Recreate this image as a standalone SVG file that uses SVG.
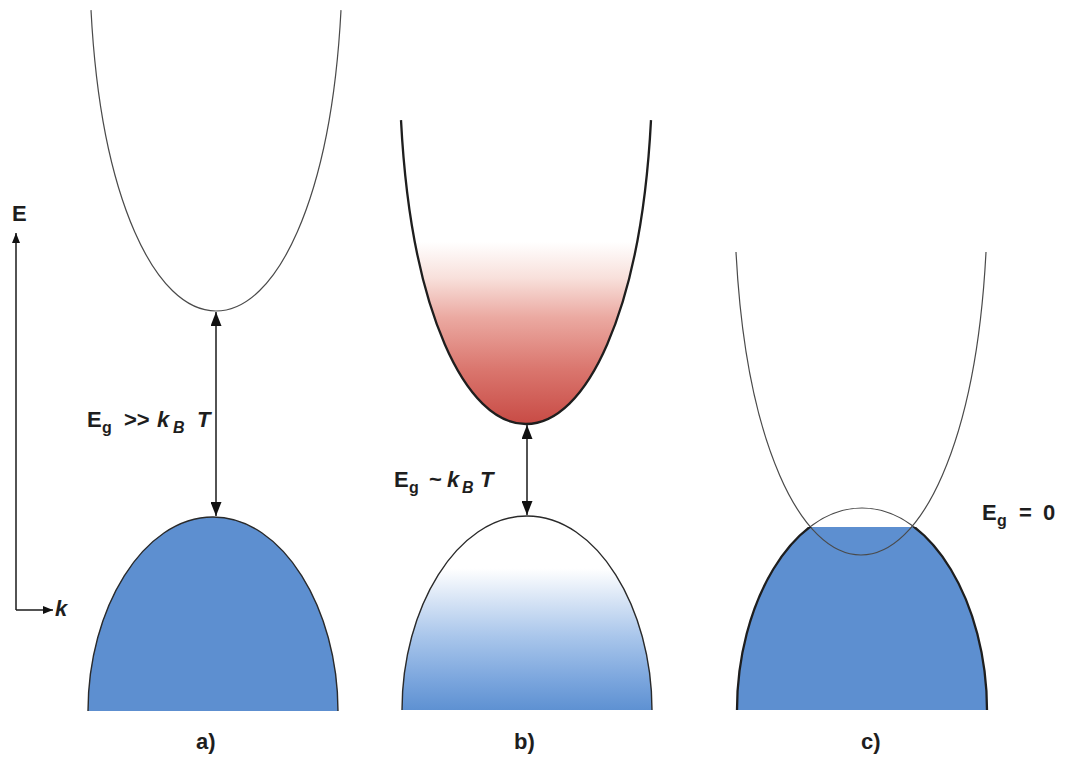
<svg xmlns="http://www.w3.org/2000/svg" width="1070" height="758" viewBox="0 0 1070 758">
<style>
.lbl{font-family:"Liberation Sans",Arial,sans-serif;font-weight:bold;font-size:22px;fill:#1e1e1e}
.sub{font-size:16px}
.it{font-style:italic}
.thin{fill:none;stroke:#4a4a4a;stroke-width:1.2}
.mid{fill:none;stroke:#2a2a2a;stroke-width:1.4}
.thick{fill:none;stroke:#1e1e1e;stroke-width:2.3}
.conn{stroke:#1a1a1a;stroke-width:1.5;fill:none}
.blue{fill:#5d8fd0;stroke:none}
</style>
<defs>
<path id="cbLine" vector-effect="non-scaling-stroke" d="M -125,-300 C -115,-110 -60,0 0,0 C 60,0 115,-110 125,-300"/>
<path id="cbFill" d="M -125,-300 C -115,-110 -60,0 0,0 C 60,0 115,-110 125,-300 Z"/>
<path id="vbLine" vector-effect="non-scaling-stroke" d="M -125,200 C -125,95 -70,0 0,0 C 70,0 125,95 125,200"/>
<path id="vbFill" d="M -125,200 C -125,95 -70,0 0,0 C 70,0 125,95 125,200 Z"/>
<linearGradient id="gRed" x1="0" y1="0" x2="0" y2="1">
<stop offset="0" stop-color="#ffffff"/>
<stop offset="0.4" stop-color="#ffffff"/>
<stop offset="0.52" stop-color="#f8e0db"/>
<stop offset="0.65" stop-color="#eba9a1"/>
<stop offset="0.82" stop-color="#da766e"/>
<stop offset="1" stop-color="#c84b45"/>
</linearGradient>
<linearGradient id="gBlue" x1="0" y1="0" x2="0" y2="1">
<stop offset="0" stop-color="#ffffff"/>
<stop offset="0.27" stop-color="#ffffff"/>
<stop offset="0.42" stop-color="#dae6f6"/>
<stop offset="0.62" stop-color="#a9c6eb"/>
<stop offset="0.85" stop-color="#7aa5dd"/>
<stop offset="1" stop-color="#5e91d2"/>
</linearGradient>
<marker id="ah" viewBox="0 0 14 11" refX="14" refY="5.5" markerWidth="14" markerHeight="11" markerUnits="userSpaceOnUse" orient="auto-start-reverse">
<path d="M0,0 L14,5.5 L0,11 Z" fill="#111"/>
</marker>
<marker id="ahs" viewBox="0 0 10 8" refX="10" refY="4" markerWidth="10" markerHeight="8" markerUnits="userSpaceOnUse" orient="auto">
<path d="M0,0 L10,4 L0,8 Z" fill="#111"/>
</marker>
<clipPath id="clipBelow"><rect x="700" y="527" width="330" height="200"/></clipPath>
<clipPath id="clipAbove"><rect x="700" y="470" width="330" height="57"/></clipPath>
</defs>
<rect width="1070" height="758" fill="#ffffff"/>

<g id="axes">
<text class="lbl" x="12" y="221">E</text>
<text class="lbl it" x="55" y="616">k</text>
</g>

<g id="panel-a-conduction">
<use href="#cbLine" class="thin" transform="translate(216,311) scale(1,1.003)"/>
</g>
<g id="panel-a-valence">
<use href="#vbFill" class="blue" transform="translate(213,517) scale(1,0.97)"/>
<use href="#vbLine" class="mid" transform="translate(213,517) scale(1,0.97)"/>
</g>
<g id="panel-a-label">
<text class="lbl" x="87" y="427">E<tspan class="sub" x="102" dy="6">g</tspan><tspan x="124" dy="-6">&gt;&gt;</tspan><tspan class="it" x="157">k</tspan><tspan class="sub it" x="173" dy="6">B</tspan><tspan class="it" x="197" dy="-6">T</tspan></text>
<text class="lbl" x="196" y="749">a)</text>
</g>

<g id="panel-b-conduction">
<use href="#cbFill" fill="url(#gRed)" transform="translate(526,424) scale(1,1.013)"/>
<use href="#cbLine" class="thick" transform="translate(526,424) scale(1,1.013)"/>
</g>
<g id="panel-b-valence">
<use href="#vbFill" fill="url(#gBlue)" transform="translate(527,516) scale(1,0.97)"/>
<use href="#vbLine" class="mid" transform="translate(527,516) scale(1,0.97)"/>
</g>
<g id="panel-b-label">
<text class="lbl" x="394" y="487">E<tspan class="sub" x="409" dy="6">g</tspan><tspan x="429" dy="-6">~</tspan><tspan class="it" x="447">k</tspan><tspan class="sub it" x="462" dy="6">B</tspan><tspan class="it" x="480" dy="-6">T</tspan></text>
<text class="lbl" x="514" y="749">b)</text>
</g>

<g id="panel-c-valence">
<g clip-path="url(#clipBelow)">
<use href="#vbFill" class="blue" transform="translate(862,508) scale(1,1.01)"/>
</g>
</g>
<g id="panel-c-conduction">
<use href="#cbLine" class="thin" transform="translate(861,555) scale(1,1.01)"/>
</g>
<g id="panel-c-valence-outline">
<g clip-path="url(#clipBelow)">
<use href="#vbLine" class="thick" transform="translate(862,508) scale(1,1.01)"/>
</g>
<g clip-path="url(#clipAbove)">
<use href="#vbLine" class="thin" transform="translate(862,508) scale(1,1.01)"/>
</g>
</g>
<g id="panel-c-label">
<text class="lbl" x="982" y="520">E<tspan class="sub" x="997" dy="6">g</tspan><tspan x="1019" dy="-6">=</tspan><tspan x="1043">0</tspan></text>
<text class="lbl" x="861" y="749">c)</text>
</g>

<g id="connectors">
<line class="conn" x1="16" y1="610" x2="16" y2="233" marker-end="url(#ahs)"/>
<line class="conn" x1="16" y1="610" x2="53" y2="610" marker-end="url(#ahs)"/>
<line class="conn" x1="216" y1="312" x2="216" y2="516" marker-start="url(#ah)" marker-end="url(#ah)"/>
<line class="conn" x1="527" y1="425" x2="527" y2="515" marker-start="url(#ah)" marker-end="url(#ah)"/>
</g>
</svg>
